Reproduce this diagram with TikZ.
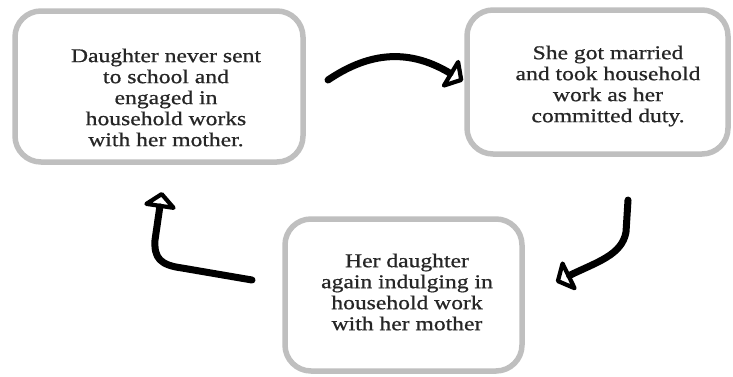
\documentclass[tikz,border=0pt]{standalone}
\usepackage{fontspec}
\setmainfont{Liberation Serif}[FakeStretch=1.21,FakeBold=0.8]
\usetikzlibrary{arrows.meta}
\begin{document}
\begin{tikzpicture}[x=1pt,y=-1pt,
  box/.style={draw=black!25,line width=5.5pt,rounded corners=26pt,inner sep=0pt,minimum width=#1},
  label/.style={align=center,inner sep=0pt,text=black!85,font=\fontsize{19.5pt}{21pt}\selectfont},
  flow/.style={line width=7pt,line cap=round,line join=round,-{Triangle[length=12pt,width=27pt,open,line width=9pt,scale=1.4,round]}}]
\useasboundingbox (0,0) rectangle (733,376);
% boxes
\node[box=288pt,minimum height=151pt] (b1) at (159,86.5) {};
\node[box=261pt,minimum height=144pt] (b2) at (597.5,82) {};
\node[box=237pt,minimum height=152pt] (b3) at (403.5,295) {};
% texts
\node[label] (t1) at (166,97.5) {Daughter never sent\\to school and\\engaged in\\household works\\with her mother.};
\node[label] (t2) at (608,86) {She got married\\and took household\\work as her\\committed duty.};
\node[label] (t3) at (407,292) {Her daughter\\again indulging in\\household work\\with her mother};
% connector ends
\coordinate (a1s) at (328,80);
\coordinate (a1e) at (463,81);
\coordinate (a2s) at (628,200);
\coordinate (a2e) at (556,282);
\coordinate (a3s) at (252,280);
\coordinate (a3e) at (162,192);
\draw[flow] (a1s) .. controls (365,55) and (405,46) .. (a1e);
\draw[flow] (a2s) -- (626,232) .. controls (622,255) and (597,262) .. (a2e);
\draw[flow] (a3s) -- (182,268) .. controls (160,265) and (154,258) .. (155,240) -- (a3e);
\end{tikzpicture}
\end{document}
